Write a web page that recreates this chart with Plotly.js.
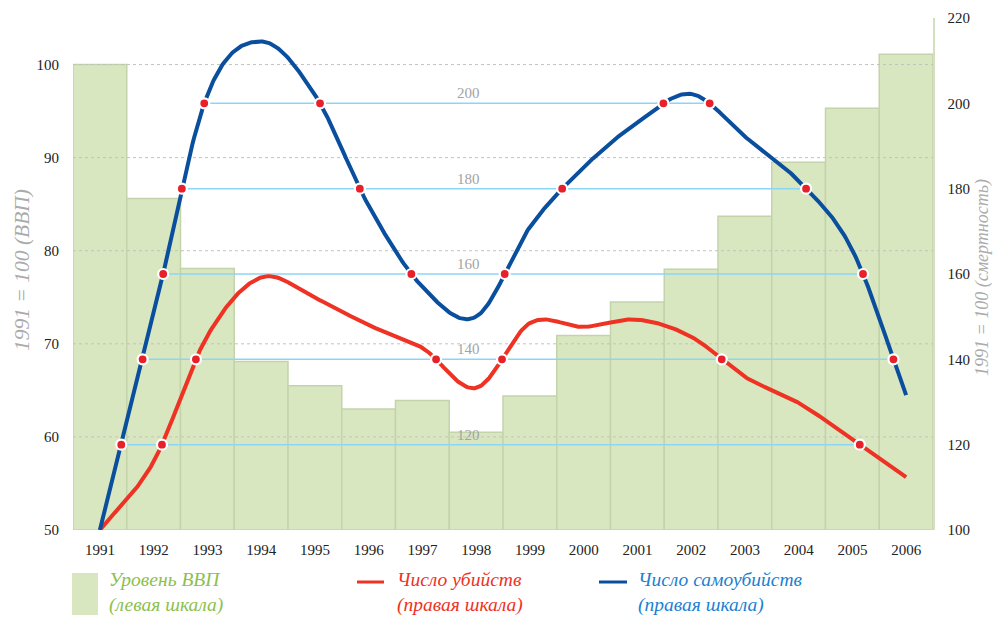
<!DOCTYPE html>
<html>
<head>
<meta charset="utf-8">
<script src="https://cdn.plot.ly/plotly-3.0.1.min.js"></script>
<style>
html,body{margin:0;padding:0;background:#fff;}
#chart{width:993px;height:617px;}
</style>
</head>
<body>
<div id="chart"></div>
<script>
// ---------- data ----------
const years = [1991,1992,1993,1994,1995,1996,1997,1998,1999,2000,2001,2002,2003,2004,2005,2006];
const gdpLevel = [100, 85.6, 78.1, 68.1, 65.5, 63.0, 63.9, 60.5, 64.4, 70.9, 74.5, 78.0, 83.7, 89.5, 95.3, 101.1];
const murders = [100, 116, 145.5, 159.2, 154.4, 148, 142.7, 133.3, 148.5, 147.6, 149.3, 145.3, 135.9, 129.8, 121.2, 112.4];
const suicides = [100, 150.4, 202, 214.5, 202, 176, 157, 150, 171, 185, 195.5, 202.2, 192.2, 181.8, 165.6, 131.6];
const leftTicks = [50, 60, 70, 80, 90, 100];
const leftGrid = [60, 70, 80, 90, 100];
const rightTicks = [100, 120, 140, 160, 180, 200, 220];
const levels = [120, 140, 160, 180, 200];
const legendTexts = ['Уровень ВВП<br>(левая шкала)', 'Число убийств<br>(правая шкала)', 'Число самоубийств<br>(правая шкала)'];
const leftTitle = '1991 = 100 (ВВП)';
const rightTitle = '1991 = 100 (смертность)';

// ---------- smooth curve (cubic Hermite / Catmull-Rom) ----------
function smooth(xs, ys, n) {
  const ox = [], oy = [];
  const N = ys.length;
  const m = ys.map((v, i) => {
    if (i === 0) return ys[1] - ys[0];
    if (i === N - 1) return ys[N - 1] - ys[N - 2];
    return (ys[i + 1] - ys[i - 1]) / 2;
  });
  for (let i = 0; i < N - 1; i++) {
    for (let k = 0; k < n; k++) {
      const t = k / n, t2 = t * t, t3 = t2 * t;
      const h00 = 2 * t3 - 3 * t2 + 1, h10 = t3 - 2 * t2 + t, h01 = -2 * t3 + 3 * t2, h11 = t3 - t2;
      ox.push(xs[i] + t * (xs[i + 1] - xs[i]));
      oy.push(h00 * ys[i] + h10 * m[i] + h01 * ys[i + 1] + h11 * m[i + 1]);
    }
  }
  ox.push(xs[N - 1]); oy.push(ys[N - 1]);
  return {x: ox, y: oy};
}
function crossings(c, lv) {
  const res = [];
  for (let i = 0; i < c.x.length - 1; i++) {
    const a = c.y[i] - lv, b = c.y[i + 1] - lv;
    if ((a < 0 && b >= 0) || (a >= 0 && b < 0)) {
      const f = a / (a - b);
      res.push(c.x[i] + f * (c.x[i + 1] - c.x[i]));
    }
  }
  return res;
}
const redC = smooth(years, murders, 40);
const blueC = smooth(years, suicides, 40);

// ---------- layout helpers (pixel -> paper) ----------
const W = 993, H = 617, ML = 73, MR = 60, MT = 18, MB = 87;
const PW = W - ML - MR, PH = H - MT - MB;
const px = x => (x - ML) / PW;
const py = y => (H - MB - y) / PH;

const SERIF = 'Liberation Serif, Times New Roman, serif';
const RED = '#ee3224', BLUE = '#0a4f9e';

const traces = [];
// bars (left axis)
traces.push({
  type: 'bar', x: years, y: gdpLevel.map(v => v - 50), base: 50, width: 1,
  marker: {color: '#d9e7c1', line: {color: '#c4d4aa', width: 1.5}},
  xaxis: 'x', yaxis: 'y', hoverinfo: 'skip', showlegend: false
});
// dotted left-axis gridlines above bars
leftGrid.forEach(v => traces.push({
  type: 'scatter', mode: 'lines', x: [years[0] - 0.5, years[years.length - 1] + 0.5], y: [v, v],
  line: {color: '#c2c2c2', width: 1, dash: 'dot'}, xaxis: 'x', yaxis: 'y', hoverinfo: 'skip', showlegend: false
}));
// light-blue level segments between the outermost crossings
const dotX = [], dotY = [];
levels.forEach(lv => {
  const xs = crossings(redC, lv).concat(crossings(blueC, lv));
  xs.forEach(x => { dotX.push(x); dotY.push(lv); });
  if (xs.length) {
    traces.push({
      type: 'scatter', mode: 'lines', x: [Math.min(...xs), Math.max(...xs)], y: [lv, lv],
      line: {color: '#8dd5f4', width: 1.5}, xaxis: 'x', yaxis: 'y2', hoverinfo: 'skip', showlegend: false
    });
  }
});
traces.push({type: 'scatter', mode: 'lines', x: redC.x, y: redC.y, line: {color: RED, width: 4}, xaxis: 'x', yaxis: 'y2', hoverinfo: 'skip', showlegend: false});
traces.push({type: 'scatter', mode: 'lines', x: blueC.x, y: blueC.y, line: {color: BLUE, width: 4}, xaxis: 'x', yaxis: 'y2', hoverinfo: 'skip', showlegend: false});
traces.push({type: 'scatter', mode: 'markers', x: dotX, y: dotY,
  marker: {color: '#e8202a', size: 10, line: {color: '#ffffff', width: 2.2}},
  xaxis: 'x', yaxis: 'y2', hoverinfo: 'skip', showlegend: false});

const annotations = [];
levels.forEach(lv => annotations.push({
  xref: 'x', yref: 'y2', x: 1997.85, y: lv, yshift: 10, showarrow: false, text: String(lv),
  font: {family: SERIF, size: 15, color: '#a3a3a3'}, xanchor: 'center', yanchor: 'middle'
}));
annotations.push({xref: 'paper', yref: 'paper', x: px(22), y: py(270), textangle: -90, showarrow: false,
  text: '<i>' + leftTitle + '</i>', font: {family: SERIF, size: 21.5, color: '#ababab'}, xanchor: 'center', yanchor: 'middle'});
annotations.push({xref: 'paper', yref: 'paper', x: px(982), y: py(278), textangle: -90, showarrow: false,
  text: '<i>' + rightTitle + '</i>', font: {family: SERIF, size: 18, color: '#ababab'}, xanchor: 'center', yanchor: 'middle'});
const legColors = ['#8cc04c', RED, '#1b7fd1'];
const legX = [107, 395, 636];
legendTexts.forEach((t, i) => annotations.push({
  xref: 'paper', yref: 'paper', x: px(legX[i]), y: py(592), xanchor: 'left', yanchor: 'middle', align: 'left',
  showarrow: false, text: '<i>' + t + '</i>', font: {family: SERIF, size: 19.5, color: legColors[i]}
}));

const shapes = [
  {type: 'rect', xref: 'paper', yref: 'paper', x0: px(72), x1: px(98), y0: py(615), y1: py(573), fillcolor: '#d9e7c1', line: {width: 0}},
  {type: 'line', xref: 'paper', yref: 'paper', x0: px(357), x1: px(384), y0: py(582), y1: py(582), line: {color: RED, width: 3}},
  {type: 'line', xref: 'paper', yref: 'paper', x0: px(599), x1: px(627), y0: py(582), y1: py(582), line: {color: BLUE, width: 3}}
];

const layout = {
  width: W, height: H,
  margin: {l: ML, r: MR, t: MT, b: MB, pad: 0},
  paper_bgcolor: '#ffffff', plot_bgcolor: '#ffffff',
  showlegend: false,
  font: {family: SERIF, size: 15, color: '#222'},
  xaxis: {range: [years[0] - 0.5, years[years.length - 1] + 0.5], tickvals: years, ticktext: years.map(String),
    showgrid: false, zeroline: false, showline: false, ticks: 'outside', ticklen: 6, tickcolor: 'rgba(0,0,0,0)',
    tickfont: {family: SERIF, size: 15, color: '#222'}, fixedrange: true},
  yaxis: {range: [50, 105], tickvals: leftTicks, showgrid: false, zeroline: false, showline: false,
    ticks: 'outside', ticklen: 10, tickcolor: 'rgba(0,0,0,0)', tickfont: {family: SERIF, size: 15, color: '#222'}},
  yaxis2: {range: [100, 220], tickvals: rightTicks, overlaying: 'y', side: 'right', showgrid: false, zeroline: false,
    showline: true, linecolor: '#d3e0bf', linewidth: 1.5,
    ticks: 'outside', ticklen: 10, tickcolor: 'rgba(0,0,0,0)', tickfont: {family: SERIF, size: 15, color: '#222'}},
  annotations: annotations,
  shapes: shapes
};
Plotly.newPlot('chart', traces, layout, {displayModeBar: false, staticPlot: true});
</script>
</body>
</html>
